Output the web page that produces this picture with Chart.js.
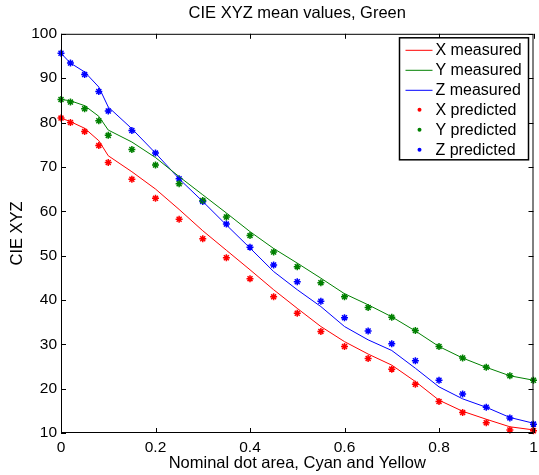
<!DOCTYPE html>
<html>
<head>
<meta charset="utf-8">
<script src="https://cdn.jsdelivr.net/npm/chart.js@4.4.1/dist/chart.umd.min.js"></script>
<style>
  html, body { margin: 0; padding: 0; background: #fff; }
</style>
</head>
<body>
<canvas id="xyzChart" width="539" height="475"></canvas>
<script>
// nominal dot area (x axis)
const dotArea = [0, 0.02, 0.05, 0.08, 0.1, 0.15, 0.2, 0.25, 0.3, 0.35, 0.4, 0.45,
                 0.5, 0.55, 0.6, 0.65, 0.7, 0.75, 0.8, 0.85, 0.9, 0.95, 1];

const xMeasured = [81.0, 80.2, 78.7, 75.9, 72.5, 68.9, 65.0, 60.4, 55.6, 51.2, 46.8, 42.3,
                   38.1, 34.0, 30.6, 27.8, 25.3, 21.6, 17.4, 14.9, 13.1, 11.4, 10.7];
const yMeasured = [85.2, 84.9, 83.8, 81.4, 78.3, 75.6, 72.1, 67.8, 63.7, 59.6, 55.4, 51.6,
                   48.3, 44.9, 41.4, 38.9, 36.2, 33.0, 29.5, 26.9, 24.8, 22.9, 21.9];
const zMeasured = [95.6, 93.4, 91.4, 88.0, 83.5, 78.6, 73.1, 67.3, 62.2, 56.9, 51.7, 46.4,
                   42.3, 38.5, 34.0, 31.0, 28.6, 24.6, 20.4, 17.7, 15.8, 13.5, 12.2];

const xPredicted = [81.0, 80.0, 78.0, 74.8, 71.0, 67.2, 62.9, 58.2, 53.8, 49.5, 44.8, 40.7,
                    37.0, 32.9, 29.5, 26.8, 24.4, 21.0, 17.1, 14.6, 12.3, 10.7, 10.5];
const yPredicted = [85.2, 84.6, 83.1, 80.4, 77.1, 73.9, 70.4, 66.2, 62.4, 58.7, 54.5, 50.8,
                    47.5, 43.9, 40.7, 38.3, 36.1, 33.1, 29.5, 26.9, 24.8, 22.9, 21.9];
const zPredicted = [95.6, 93.4, 90.8, 87.0, 82.6, 78.2, 73.1, 67.3, 62.2, 57.1, 51.9, 47.9,
                    44.1, 39.7, 36.0, 33.0, 30.1, 26.3, 21.9, 18.8, 15.8, 13.4, 12.0];

const FONT = 'Liberation Sans, Arial, Helvetica, sans-serif';

function toPoints(values) {
    return values.map((v, i) => ({ x: dotArea[i], y: v }));
}

function measured(label, values, color) {
    return {
        label: label,
        data: toPoints(values),
        showLine: true,
        borderColor: color,
        backgroundColor: color,
        borderWidth: 1,
        pointRadius: 0,
        tension: 0,
        clip: false
    };
}

function predicted(label, values, color) {
    return {
        label: label,
        data: toPoints(values),
        showLine: false,
        pointStyle: 'star',
        borderColor: color,
        backgroundColor: color,
        pointBorderWidth: 1.5,
        pointRadius: 3.5,
        clip: false
    };
}

// box + inward ticks on all four sides
const framePlugin = {
    id: 'frame',
    afterDatasetsDraw(chart) {
        const { ctx, chartArea: a, scales: { x, y } } = chart;
        ctx.save();
        ctx.strokeStyle = '#000';
        ctx.lineWidth = 1;
        ctx.beginPath();
        x.ticks.forEach(t => {
            const px = Math.round(x.getPixelForValue(t.value)) + 0.5;
            ctx.moveTo(px, a.bottom); ctx.lineTo(px, a.bottom - 5);
            ctx.moveTo(px, a.top); ctx.lineTo(px, a.top + 5);
        });
        y.ticks.forEach(t => {
            const py = Math.round(y.getPixelForValue(t.value)) + 0.5;
            ctx.moveTo(a.left, py); ctx.lineTo(a.left + 5, py);
            ctx.moveTo(a.right, py); ctx.lineTo(a.right - 5, py);
        });
        ctx.stroke();
        ctx.strokeRect(a.left + 0.5, a.top + 0.5, a.right - a.left - 1, a.bottom - a.top - 1);
        ctx.restore();
    }
};

// MATLAB style legend in the top right corner of the plot
const boxLegend = {
    id: 'boxLegend',
    afterDraw(chart) {
        const { ctx, chartArea: a } = chart;
        const w = 129, h = 122;
        const left = a.right - 5 - w, top = a.top + 4;
        ctx.save();
        ctx.fillStyle = '#fff';
        ctx.fillRect(left, top, w, h);
        ctx.strokeStyle = '#000';
        ctx.lineWidth = 1.5;
        ctx.strokeRect(left, top, w, h);
        ctx.font = '16px ' + FONT;
        ctx.textBaseline = 'middle';
        chart.data.datasets.forEach((ds, i) => {
            const cy = top + 12 + i * 20;
            ctx.strokeStyle = ds.borderColor;
            ctx.fillStyle = ds.borderColor;
            if (ds.showLine) {
                ctx.lineWidth = 1;
                ctx.beginPath();
                ctx.moveTo(left + 6, cy + 0.5);
                ctx.lineTo(left + 33, cy + 0.5);
                ctx.stroke();
            } else {
                ctx.beginPath();
                ctx.arc(left + 20, cy, 2, 0, Math.PI * 2);
                ctx.fill();
            }
            ctx.fillStyle = '#000';
            ctx.fillText(ds.label, left + 36, cy + 1);
        });
        ctx.restore();
    }
};

const ctx = document.getElementById('xyzChart').getContext('2d');
const xyzChart = new Chart(ctx, {
    type: 'scatter',
    data: {
        datasets: [
            measured('X measured', xMeasured, '#ff0000'),
            measured('Y measured', yMeasured, '#008000'),
            measured('Z measured', zMeasured, '#0000ff'),
            predicted('X predicted', xPredicted, '#ff0000'),
            predicted('Y predicted', yPredicted, '#008000'),
            predicted('Z predicted', zPredicted, '#0000ff')
        ]
    },
    options: {
        responsive: false,
        animation: false,
        layout: { padding: { right: 2 } },
        plugins: {
            legend: { display: false },
            tooltip: { enabled: false },
            title: {
                display: true,
                text: 'CIE XYZ mean values, Green',
                color: '#000',
                fullSize: false,
                font: { family: FONT, size: 16.5, weight: 'normal', lineHeight: 1.2 },
                padding: { top: 4, bottom: 10 }
            }
        },
        scales: {
            x: {
                type: 'linear',
                min: 0,
                max: 1,
                afterFit: s => { s.height = 42; s.paddingLeft = 0; s.paddingRight = 0; },
                grid: { display: false, drawTicks: false },
                border: { display: false },
                ticks: {
                    stepSize: 0.2,
                    color: '#000',
                    padding: 5,
                    maxRotation: 0,
                    font: { family: FONT, size: 15.5 },
                    callback: v => String(+v.toFixed(1))
                },
                title: {
                    display: true,
                    text: 'Nominal dot area, Cyan and Yellow',
                    color: '#000',
                    font: { family: FONT, size: 16.5 },
                    padding: { top: 0, bottom: 2 }
                }
            },
            y: {
                min: 10,
                max: 100,
                afterFit: s => { s.width = 61; s.paddingTop = 0; s.paddingBottom = 0; },
                grid: { display: false, drawTicks: false },
                border: { display: false },
                ticks: {
                    stepSize: 10,
                    color: '#000',
                    padding: 4,
                    font: { family: FONT, size: 15.5 }
                },
                title: {
                    display: true,
                    text: 'CIE XYZ',
                    color: '#000',
                    font: { family: FONT, size: 16.5 },
                    padding: { top: 8, bottom: 0 }
                }
            }
        }
    },
    plugins: [framePlugin, boxLegend]
});
</script>
</body>
</html>
